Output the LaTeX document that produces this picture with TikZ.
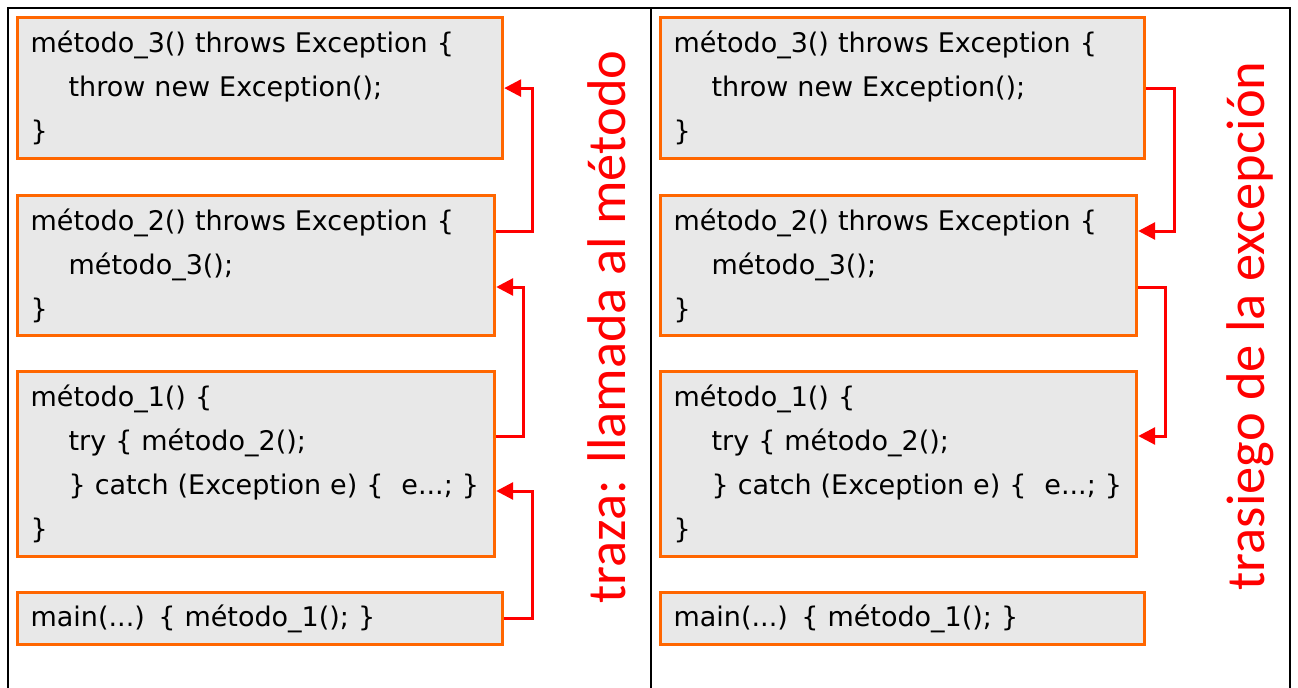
\documentclass[tikz,border=0pt]{standalone}
\usepackage{fontspec}
\setmainfont{DejaVu Sans}
\newfontfamily\labelfont{Carlito}
\usetikzlibrary{arrows.meta,calc}
\definecolor{boxorange}{RGB}{255,102,0}
\definecolor{boxfill}{RGB}{232,232,232}
\tikzset{
  codebox/.style={draw=boxorange, fill=boxfill, line width=3.2bp, anchor=north west,
    inner xsep=13bp, inner ysep=0bp, align=left,
    font=\fontsize{27bp}{44bp}\selectfont},
  arr/.style={draw=red, line width=3bp, -{Triangle[length=17bp,width=17bp]}},
  biglabel/.style={red, rotate=90, font=\labelfont\fontsize{54.5bp}{54.5bp}\selectfont},
}
\newcommand{\ind}{\hspace*{38bp}}
\begin{document}
\begin{tikzpicture}[x=1bp,y=-1bp]
\useasboundingbox (0,0) rectangle (1298,688);
\draw[line width=1.2bp] (8,688) -- (8,8) -- (1290,8) -- (1290,688);
\draw[line width=1.2bp] (651,8) -- (651,688);
% left column
\node[codebox, minimum width=485bp, minimum height=141bp, text width=459bp] (b1) at (16,16)
  {método\_3() throws Exception \{\\ \ind throw new Exception();\\ \}};
\node[codebox, minimum width=477bp, minimum height=140bp, text width=451bp] (b2) at (16,194)
  {método\_2() throws Exception \{\\ \ind método\_3();\\ \}};
\node[codebox, minimum width=477bp, minimum height=185bp, text width=451bp] (b3) at (16,370)
  {método\_1() \{\\ \ind try \{ método\_2();\\ \ind \} catch (Exception e) \{\ \ e...; \}\\ \}};
\node[codebox, minimum width=485bp, minimum height=52bp, text width=459bp] (b4) at (16,591)
  {main(...) \{ método\_1(); \}};
% right column
\node[codebox, minimum width=484bp, minimum height=141bp, text width=458bp] (r1) at (659,16)
  {método\_3() throws Exception \{\\ \ind throw new Exception();\\ \}};
\node[codebox, minimum width=476bp, minimum height=140bp, text width=450bp] (r2) at (659,194)
  {método\_2() throws Exception \{\\ \ind método\_3();\\ \}};
\node[codebox, minimum width=476bp, minimum height=185bp, text width=450bp] (r3) at (659,370)
  {método\_1() \{\\ \ind try \{ método\_2();\\ \ind \} catch (Exception e) \{\ \ e...; \}\\ \}};
\node[codebox, minimum width=484bp, minimum height=52bp, text width=458bp] (r4) at (659,591)
  {main(...) \{ método\_1(); \}};
% labels
\node[biglabel] (t1) at (607,327) {traza: llamada al método};
\node[biglabel] (t2) at (1250,326) {trasiego de la excepción};
% arrows left
\draw[arr] ([yshift=-37bp]b2.north east) -- ++(36,0) |- (b1.east);
\draw[arr] ([yshift=-66bp]b3.north east) -- ++(27,0) |- ([yshift=-93bp]b2.north east);
\draw[arr] (b4.east) -- ++(28,0) |- ([yshift=-121bp]b3.north east);
% arrows right
\draw[arr] (r1.east) -- ++(28,0) |- ([yshift=-37bp]r2.north east);
\draw[arr] ([yshift=-93bp]r2.north east) -- ++(27,0) |- ([yshift=-66bp]r3.north east);
\end{tikzpicture}
\end{document}
